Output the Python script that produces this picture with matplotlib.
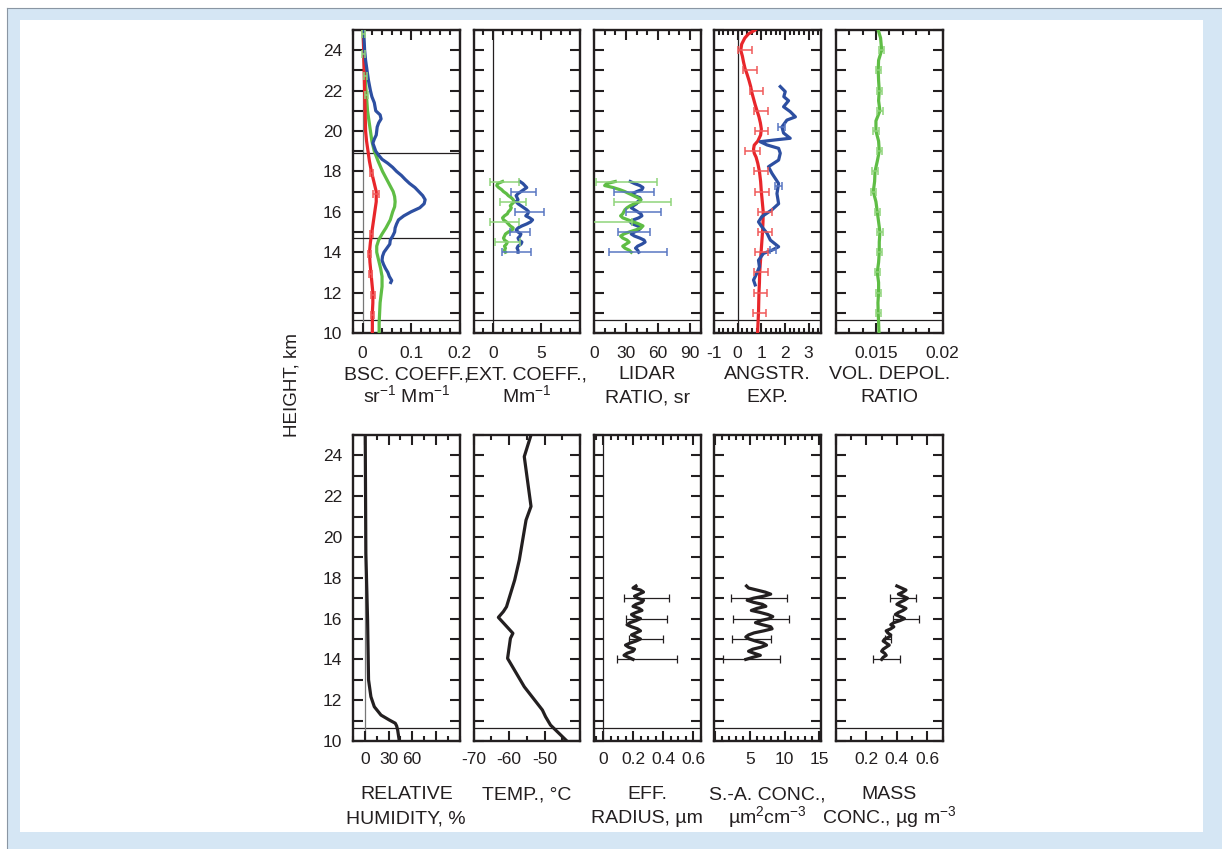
import matplotlib
matplotlib.use("Agg")
import matplotlib.pyplot as plt
from matplotlib.patches import Rectangle
from matplotlib.lines import Line2D
from matplotlib.ticker import MultipleLocator, FuncFormatter

plt.rcParams['font.family'] = ['Liberation Sans', 'DejaVu Sans']
plt.rcParams['mathtext.fontset'] = 'custom'
plt.rcParams['mathtext.rm'] = 'Liberation Sans'
plt.rcParams['mathtext.default'] = 'regular'
plt.rcParams['text.color'] = '#231f20'

# ---------------- data (height in km) ----------------
# backscatter coefficient, sr^-1 Mm^-1
bsc_blue_h = [25.0, 24.5, 24.0, 23.5, 23.0, 22.5, 22.0, 21.7, 21.4, 21.0, 20.8, 20.6, 20.4, 20.2,
              20.0, 19.8, 19.6, 19.4, 19.2, 19.0, 18.8, 18.6, 18.4, 18.2, 18.0, 17.8, 17.6, 17.4,
              17.2, 17.0, 16.8, 16.6, 16.4, 16.2, 16.0, 15.8, 15.6, 15.4, 15.2, 15.0, 14.8, 14.6,
              14.4, 14.2, 14.0, 13.8, 13.6, 13.4, 13.2, 13.0, 12.8, 12.6, 12.5]
bsc_blue = [0.002, 0.003, 0.004, 0.006, 0.009, 0.012, 0.016, 0.019, 0.024, 0.027, 0.036, 0.038,
            0.033, 0.030, 0.029, 0.028, 0.024, 0.021, 0.024, 0.027, 0.033, 0.040, 0.052, 0.062,
            0.070, 0.080, 0.088, 0.097, 0.108, 0.116, 0.124, 0.129, 0.127, 0.118, 0.100, 0.085,
            0.074, 0.070, 0.067, 0.066, 0.062, 0.057, 0.056, 0.050, 0.044, 0.041, 0.040, 0.043,
            0.047, 0.052, 0.055, 0.060, 0.058]
bsc_green_h = [25.0, 24.0, 23.0, 22.0, 21.0, 20.5, 20.0, 19.5, 19.0, 18.5, 18.0, 17.5, 17.0, 16.75,
               16.5, 16.25, 16.0, 15.6, 15.2, 14.9, 14.6, 14.3, 14.0, 13.6, 13.2, 12.8, 12.3,
               11.9, 11.5, 11.0, 10.5, 10.0]
bsc_green = [0.001, 0.002, 0.004, 0.007, 0.010, 0.013, 0.016, 0.019, 0.024, 0.032, 0.041, 0.052,
             0.063, 0.066, 0.067, 0.066, 0.062, 0.057, 0.048, 0.040, 0.033, 0.029, 0.029, 0.033,
             0.037, 0.040, 0.040, 0.038, 0.036, 0.035, 0.034, 0.034]
bsc_red_h = [25.0, 24.0, 23.0, 22.0, 21.0, 20.0, 19.5, 19.0, 18.5, 18.0, 17.5, 17.0, 16.5, 16.0,
             15.5, 15.0, 14.5, 14.0, 13.5, 13.0, 12.5, 12.0, 11.5, 11.0, 10.5, 10.0]
bsc_red = [0.001, 0.002, 0.003, 0.004, 0.005, 0.006, 0.008, 0.011, 0.014, 0.018, 0.023, 0.028,
           0.028, 0.025, 0.022, 0.019, 0.016, 0.014, 0.015, 0.017, 0.019, 0.021, 0.021, 0.020,
           0.020, 0.020]
bsc_green_err_h = [24.8, 23.8, 22.7, 21.8]
bsc_green_err_x = [0.001, 0.002, 0.005, 0.007]
bsc_green_err = [0.003, 0.003, 0.003, 0.003]
bsc_red_err_h = [17.9, 16.9, 14.9, 13.9, 12.9, 11.9, 10.9]
bsc_red_err_x = [0.019, 0.028, 0.019, 0.014, 0.017, 0.021, 0.020]
bsc_red_err = [0.003, 0.006, 0.003, 0.003, 0.003, 0.004, 0.003]
bsc_lines = [18.9, 14.7]

# extinction coefficient, Mm^-1
layer_h = [17.5, 17.4, 17.3, 17.2, 17.1, 17.0, 16.9, 16.8, 16.7, 16.6, 16.5, 16.4, 16.3, 16.2,
           16.1, 16.0, 15.9, 15.8, 15.7, 15.6, 15.5, 15.4, 15.3, 15.2, 15.1, 15.0, 14.9, 14.8,
           14.7, 14.6, 14.5, 14.4, 14.3, 14.2, 14.1, 14.0]
ext_blue = [2.8, 3.1, 3.3, 3.5, 3.2, 2.9, 2.6, 2.4, 2.5, 2.6, 2.4, 2.6, 2.9, 3.2, 3.5, 3.7, 3.6,
            3.4, 3.8, 4.1, 3.9, 3.5, 3.0, 2.6, 2.4, 2.6, 2.9, 2.8, 2.6, 2.7, 3.0, 2.9, 2.6, 2.5,
            2.6, 2.6]
ext_green = [1.0, 0.5, 0.4, 0.6, 0.9, 1.1, 1.4, 1.6, 1.9, 2.1, 2.2, 2.0, 1.8, 1.9, 1.8, 1.6,
             1.5, 1.2, 1.0, 1.1, 1.4, 1.6, 1.8, 2.1, 2.0, 1.6, 1.3, 1.2, 1.1, 1.2, 1.5, 1.4, 1.2,
             1.3, 1.2, 1.3]
ext_blue_err_h = [17.0, 16.0, 15.0, 14.0]
ext_blue_err_x = [3.2, 3.8, 2.8, 2.4]
ext_blue_err = [1.3, 1.5, 1.0, 1.5]
ext_green_err_h = [17.5, 16.5, 15.5, 14.5]
ext_green_err_x = [1.2, 2.1, 1.2, 1.5]
ext_green_err = [1.45, 1.35, 1.45, 1.3]

# lidar ratio, sr
lr_blue = [34, 38, 43, 46, 45, 40, 36, 38, 43, 44, 41, 40, 37, 35, 38, 41, 44, 45, 42, 37, 34,
           36, 41, 44, 42, 38, 35, 38, 43, 47, 48, 45, 41, 39, 41, 42]
lr_green = [20, 12, 10, 18, 24, 29, 33, 37, 41, 44, 43, 38, 34, 31, 29, 28, 27, 25, 27, 32, 37,
            42, 46, 44, 39, 33, 28, 25, 27, 31, 33, 30, 27, 29, 33, 35]
lr_blue_err_h = [17.0, 16.0, 15.0, 14.0]
lr_blue_err_x = [37.4, 46.6, 37.4, 41.6]
lr_blue_err = [19.0, 16.7, 15.3, 27.3]
lr_green_err_h = [17.5, 16.5, 15.5]
lr_green_err_x = [30.7, 45.2, 14.0]
lr_green_err = [28.8, 26.8, 22.0]

# Angstrom exponent
ae_red_h = [25.0, 24.8, 24.6, 24.3, 24.0, 23.7, 23.4, 23.1, 22.8, 22.5, 22.2, 21.9, 21.6, 21.3,
            21.0, 20.7, 20.4, 20.1, 19.8, 19.5, 19.3, 19.1, 18.9, 18.7, 18.4, 18.0, 17.5, 17.0,
            16.5, 16.0, 15.5, 15.0, 14.5, 14.0, 13.5, 13.0, 12.5, 12.0, 11.5, 11.0, 10.5, 10.0]
ae_red = [0.74, 0.45, 0.30, 0.17, 0.13, 0.20, 0.25, 0.31, 0.40, 0.48, 0.55, 0.60, 0.67, 0.74,
          0.82, 0.90, 0.96, 1.00, 0.97, 0.85, 0.70, 0.67, 0.70, 0.78, 0.85, 0.92, 0.97, 1.00,
          1.04, 1.08, 1.07, 1.05, 1.02, 0.99, 0.96, 0.93, 0.92, 0.90, 0.89, 0.88, 0.86, 0.84]
ae_red_err_h = [24, 23, 22, 21, 20, 19, 18, 17, 16, 15, 14, 13, 12, 11]
ae_red_err_x = [0.30, 0.52, 0.78, 1.00, 1.02, 0.62, 1.00, 1.04, 1.16, 1.15, 1.02, 0.99, 0.95, 0.92]
ae_red_err = [0.3, 0.28, 0.28, 0.3, 0.28, 0.33, 0.3, 0.3, 0.28, 0.3, 0.28, 0.28, 0.28, 0.28]
ae_blue_h = [22.2, 21.95, 21.7, 21.5, 21.2, 20.96, 20.7, 20.54, 20.2, 19.9, 19.64, 19.55, 19.47,
             19.31, 19.14, 18.9, 18.56, 18.23, 17.9, 17.4, 16.9, 16.4, 16.1, 15.76, 15.5, 15.26,
             14.94, 14.6, 14.27, 14.1, 13.94, 13.6, 13.28, 12.96, 12.62, 12.38]
ae_blue = [1.80, 2.01, 1.95, 2.15, 1.94, 2.22, 2.44, 2.08, 1.87, 1.94, 2.22, 1.52, 0.95, 1.24,
           1.73, 1.80, 1.73, 1.30, 1.45, 1.73, 1.66, 1.73, 1.45, 1.02, 0.88, 1.02, 1.24, 1.38,
           1.73, 1.45, 1.09, 0.88, 0.92, 0.81, 0.67, 0.74]
ae_blue_err_h = [20.2, 17.3, 14.1]
ae_blue_err_x = [1.87, 1.73, 1.50]
ae_blue_err = [0.15, 0.15, 0.12]

# volume depolarization ratio
vdr_h = [25.0, 24.6, 24.0, 23.5, 23.0, 22.5, 22.0, 21.5, 21.0, 20.5, 20.0, 19.5, 19.0, 18.5,
         18.0, 17.5, 17.0, 16.5, 16.0, 15.5, 15.0, 14.5, 14.0, 13.5, 13.0, 12.5, 12.0, 11.5,
         11.0, 10.5, 10.0]
vdr = [0.01517, 0.01535, 0.01543, 0.0152, 0.01517, 0.0152, 0.01525, 0.0152, 0.0153, 0.0150,
       0.0150, 0.0152, 0.01525, 0.0151, 0.01493, 0.0149, 0.0148, 0.0150, 0.0151, 0.0152,
       0.0153, 0.01525, 0.01525, 0.0152, 0.0151, 0.0152, 0.0152, 0.01515, 0.01517, 0.0152,
       0.01523]
vdr_err_h = [24, 23, 22, 21, 20, 19, 18, 17, 16, 15, 14, 13, 12, 11]
vdr_err_x = [0.01543, 0.01517, 0.01525, 0.0153, 0.0150, 0.01525, 0.01493, 0.0148, 0.0151,
             0.0153, 0.01525, 0.0151, 0.0152, 0.01517]
vdr_err = [0.0002] * 14

# relative humidity, %
rh_h = [25.0, 19.2, 15.9, 13.0, 12.17, 11.68, 11.27, 11.03, 10.87, 10.74, 10.54, 10.0]
rh = [0.5, 1.3, 3.5, 4.7, 7.7, 12.0, 20.5, 31.0, 38.6, 40.3, 41.6, 43.7]

# temperature, deg C
temp_h = [25.0, 23.94, 21.5, 20.83, 18.87, 17.89, 16.58, 16.34, 16.06, 15.28, 15.03, 14.05,
          12.66, 11.52, 11.19, 10.78, 10.0]
temp = [-53.8, -55.7, -53.8, -55.2, -57.1, -58.4, -60.7, -61.6, -63.0, -58.9, -59.6, -60.4,
        -55.7, -50.6, -49.7, -48.3, -43.7]

# microphysical retrievals
micro_h = [17.6, 17.5, 17.4, 17.3, 17.2, 17.1, 17.0, 16.9, 16.8, 16.7, 16.6, 16.5, 16.4, 16.3,
           16.2, 16.1, 16.0, 15.9, 15.8, 15.7, 15.6, 15.5, 15.4, 15.3, 15.2, 15.1, 15.0, 14.9,
           14.8, 14.7, 14.6, 14.5, 14.4, 14.3, 14.2, 14.1, 14.0]
reff = [0.22, 0.20, 0.25, 0.27, 0.24, 0.21, 0.23, 0.27, 0.26, 0.22, 0.20, 0.24, 0.26, 0.22, 0.19,
        0.21, 0.25, 0.22, 0.18, 0.16, 0.19, 0.23, 0.25, 0.22, 0.19, 0.22, 0.25, 0.22, 0.18, 0.15,
        0.17, 0.21, 0.20, 0.16, 0.14, 0.17, 0.20]
sa = [4.5, 4.8, 6.0, 7.2, 8.0, 7.0, 5.5, 4.6, 5.5, 6.8, 7.3, 6.0, 5.2, 6.5, 7.6, 8.3, 7.8, 6.5,
      5.8, 6.8, 8.0, 8.2, 7.0, 5.6, 4.8, 4.4, 4.9, 5.8, 6.9, 7.4, 6.6, 5.4, 4.8, 5.6, 6.5, 5.4,
      4.4]
mass = [0.40, 0.43, 0.46, 0.44, 0.41, 0.44, 0.47, 0.45, 0.42, 0.40, 0.43, 0.46, 0.44, 0.41,
        0.39, 0.42, 0.45, 0.42, 0.38, 0.36, 0.38, 0.36, 0.33, 0.34, 0.36, 0.35, 0.32, 0.31,
        0.33, 0.35, 0.33, 0.31, 0.30, 0.32, 0.33, 0.31, 0.30]
micro_err_h = [17.0, 16.0, 15.0, 14.0]
reff_err_x = [0.29, 0.29, 0.285, 0.29]
reff_err = [0.15, 0.135, 0.115, 0.2]
sa_err_x = [6.3, 6.6, 5.2, 5.2]
sa_err = [4.0, 4.0, 2.8, 4.1]
mass_err_x = [0.44, 0.46, 0.34, 0.33]
mass_err = [0.085, 0.085, 0.02, 0.09]

tropopause = 10.65

# ---------------- styling ----------------
BLUE = '#2d4fa1'
RED = '#e8262b'
GREEN = '#5fbd45'
BLUE_E = '#5876c2'
RED_E = '#f05a5a'
GREEN_E = '#8fd47a'
INK = '#231f20'
LW = 2.3

W, H = 1222, 849
fig = plt.figure(figsize=(W / 100, H / 100), dpi=100)
fig.patch.set_facecolor('white')

# frame around the figure
fig.add_artist(Rectangle((7 / W, 0), 1 - 7 / W, 1 - 8 / H, transform=fig.transFigure,
                         facecolor='#d5e6f4', edgecolor='none', zorder=-10))
fig.add_artist(Line2D([7 / W, 1], [1 - 8 / H, 1 - 8 / H], transform=fig.transFigure,
                      color='#8a96a3', lw=0.8, zorder=-9))
fig.add_artist(Line2D([7 / W, 7 / W], [0, 1 - 8 / H], transform=fig.transFigure,
                      color='#8a96a3', lw=0.8, zorder=-9))
fig.add_artist(Rectangle((20 / W, 17 / H), (1203 - 20) / W, (832 - 20) / H,
                         transform=fig.transFigure, facecolor='white', edgecolor='none',
                         zorder=-8))


def rect(left, top, width, height):
    return [left / W, 1 - (top + height) / H, width / W, height / H]


lefts = [353, 473.5, 594, 714, 836]
PW = 106.5


def make_axes(col, top, height):
    ax = fig.add_axes(rect(lefts[col], top, PW, height))
    ax.set_ylim(10, 25)
    for s in ax.spines.values():
        s.set_linewidth(1.7)
        s.set_color(INK)
    ax.yaxis.set_major_locator(MultipleLocator(1))
    ax.yaxis.set_major_formatter(
        FuncFormatter(lambda v, p: f"{int(round(v))}" if int(round(v)) % 2 == 0 else ""))
    ax.tick_params(which='both', direction='in', top=True, right=True, width=1.5,
                   colors=INK, labelsize=12.5)
    ax.tick_params(axis='y', which='major', length=7, pad=8, labelleft=(col == 0))
    ax.tick_params(axis='x', which='major', length=7)
    ax.tick_params(axis='x', which='minor', length=3.5)
    ax.axhline(tropopause, color=INK, lw=0.9, zorder=1)
    return ax


def set_x(ax, lim, ticks, labels, minor, pad):
    ax.set_xlim(*lim)
    ax.set_xticks(ticks)
    ax.set_xticklabels(labels)
    ax.xaxis.set_minor_locator(MultipleLocator(minor))
    ax.tick_params(axis='x', which='major', pad=pad)


def err(ax, x, h, xe, color, lw=1.1):
    ax.errorbar(x, h, xerr=xe, fmt='none', ecolor=color, elinewidth=lw, capsize=3,
                capthick=lw, zorder=4)


TOP_T, TOP_H = 30, 303
BOT_T, BOT_H = 435, 306
TP = 9.5
BP = 8

# --- top row ---
ax = make_axes(0, TOP_T, TOP_H)
set_x(ax, (-0.02, 0.2), [0, 0.1, 0.2], ['0', '0.1', '0.2'], 0.02, TP)
ax.axvline(0, color='#777777', lw=0.9, zorder=1)
for hh in bsc_lines:
    ax.axhline(hh, color=INK, lw=0.9, zorder=1)
ax.plot(bsc_green, bsc_green_h, color=GREEN, lw=LW, zorder=3)
ax.plot(bsc_red, bsc_red_h, color=RED, lw=LW, zorder=3)
ax.plot(bsc_blue, bsc_blue_h, color=BLUE, lw=LW, zorder=3)
err(ax, bsc_green_err_x, bsc_green_err_h, bsc_green_err, GREEN_E)
err(ax, bsc_red_err_x, bsc_red_err_h, bsc_red_err, RED_E)

ax = make_axes(1, TOP_T, TOP_H)
set_x(ax, (-2, 9), [0, 5], ['0', '5'], 1, TP)
ax.axvline(0, color=INK, lw=0.9, zorder=1)
ax.plot(ext_green, layer_h, color=GREEN, lw=LW, zorder=3)
ax.plot(ext_blue, layer_h, color=BLUE, lw=LW, zorder=3)
err(ax, ext_blue_err_x, ext_blue_err_h, ext_blue_err, BLUE_E)
err(ax, ext_green_err_x, ext_green_err_h, ext_green_err, GREEN_E)

ax = make_axes(2, TOP_T, TOP_H)
set_x(ax, (0, 100), [0, 30, 60, 90], ['0', '30', '60', '90'], 10, TP)
ax.plot(lr_blue, layer_h, color=BLUE, lw=LW, zorder=3)
ax.plot(lr_green, layer_h, color=GREEN, lw=LW, zorder=3)
err(ax, lr_blue_err_x, lr_blue_err_h, lr_blue_err, BLUE_E)
err(ax, lr_green_err_x, lr_green_err_h, lr_green_err, GREEN_E)

ax = make_axes(3, TOP_T, TOP_H)
set_x(ax, (-1, 3.5), [-1, 0, 1, 2, 3], ['-1', '0', '1', '2', '3'], 0.2, TP)
ax.axvline(0, color=INK, lw=0.9, zorder=1)
ax.plot(ae_red, ae_red_h, color=RED, lw=LW, zorder=3)
ax.plot(ae_blue, ae_blue_h, color=BLUE, lw=LW, zorder=3)
err(ax, ae_red_err_x, ae_red_err_h, ae_red_err, RED_E)
err(ax, ae_blue_err_x, ae_blue_err_h, ae_blue_err, BLUE_E)

ax = make_axes(4, TOP_T, TOP_H)
set_x(ax, (0.012, 0.020), [0.015, 0.02], ['0.015', '0.02'], 0.001, TP)
ax.plot(vdr, vdr_h, color=GREEN, lw=LW, zorder=3)
err(ax, vdr_err_x, vdr_err_h, vdr_err, GREEN_E)

# --- bottom row ---
ax = make_axes(0, BOT_T, BOT_H)
set_x(ax, (-15, 120), [0, 30, 60, 90], ['0', '30', '60', ''], 15, BP)
ax.axvline(0, color='#777777', lw=0.9, zorder=1)
ax.plot(rh, rh_h, color=INK, lw=LW, zorder=3)

ax = make_axes(1, BOT_T, BOT_H)
set_x(ax, (-70, -40), [-70, -60, -50, -40], ['-70', '-60', '-50', ''], 5, BP)
ax.plot(temp, temp_h, color=INK, lw=LW, zorder=3)

ax = make_axes(2, BOT_T, BOT_H)
set_x(ax, (-0.06, 0.65), [0, 0.2, 0.4, 0.6], ['0', '0.2', '0.4', '0.6'], 0.05, BP)
ax.axvline(0, color=INK, lw=0.9, zorder=1)
ax.plot(reff, micro_h, color=INK, lw=LW, zorder=3)
err(ax, reff_err_x, micro_err_h, reff_err, INK, lw=0.9)

ax = make_axes(3, BOT_T, BOT_H)
set_x(ax, (-0.2, 15.2), [0, 5, 10, 15], ['', '5', '10', '15'], 1, BP)
ax.plot(sa, micro_h, color=INK, lw=LW, zorder=3)
err(ax, sa_err_x, micro_err_h, sa_err, INK, lw=0.9)

ax = make_axes(4, BOT_T, BOT_H)
set_x(ax, (0, 0.7), [0, 0.2, 0.4, 0.6], ['', '0.2', '0.4', '0.6'], 0.1, BP)
ax.plot(mass, micro_h, color=INK, lw=LW, zorder=3)
err(ax, mass_err_x, micro_err_h, mass_err, INK, lw=0.9)

# --- axis titles under each panel ---
top_labels = [("BSC. COEFF.,", "sr$^{-1}$ Mm$^{-1}$"),
              ("EXT. COEFF.,", "Mm$^{-1}$"),
              ("LIDAR", "RATIO, sr"),
              ("ANGSTR.", "EXP."),
              ("VOL. DEPOL.", "RATIO")]
bot_labels = [("RELATIVE", "HUMIDITY, %"),
              ("TEMP., \u00b0C", ""),
              ("EFF.", "RADIUS, \u00b5m"),
              ("S.-A. CONC.,", "\u00b5m$^{2}$cm$^{-3}$"),
              ("MASS", "CONC., \u00b5g m$^{-3}$")]


def put_labels(labels, base1, base2):
    for i, (l1, l2) in enumerate(labels):
        cx = (lefts[i] + PW / 2) / W
        fig.text(cx, 1 - base1 / H, l1, ha='center', va='baseline', fontsize=14)
        if l2:
            fig.text(cx, 1 - base2 / H, l2, ha='center', va='baseline', fontsize=14)


put_labels(top_labels, 379, 402)
put_labels(bot_labels, 799, 823)

fig.text(292 / W, 1 - 385 / H, "HEIGHT, km", rotation=90, ha='center', va='center',
         fontsize=13.5)

fig.savefig("out.png", dpi=100)
